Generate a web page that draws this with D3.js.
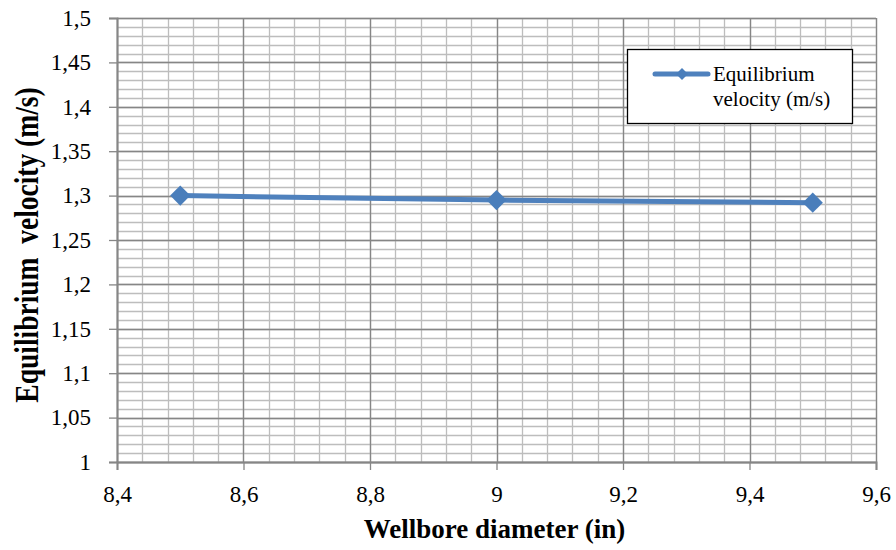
<!DOCTYPE html>
<html>
<head>
<meta charset="utf-8">
<script src="https://cdn.jsdelivr.net/npm/d3@7"></script>
<style>
body{margin:0;background:#fff;}
svg text{font-family:"Liberation Serif","Times New Roman",serif;fill:#000;}
</style>
</head>
<body>
<svg id="chart" width="896" height="550"></svg>
<script>
const diameters = [8.5, 9, 9.5];
const velocities = [1.300, 1.295, 1.292];
const seriesName = ["Equilibrium", "velocity (m/s)"];
const xTicks = [8.4, 8.6, 8.8, 9, 9.2, 9.4, 9.6];
const yTicks = [1, 1.05, 1.1, 1.15, 1.2, 1.25, 1.3, 1.35, 1.4, 1.45, 1.5];

const serif = "'Liberation Serif', 'Times New Roman', serif";

const svg = d3.select("#chart"),
margin = {top:18,right:20,bottom:88,left:117},
width = 876 - margin.left,
height = 462 - margin.top;

const g = svg.append("g")
.attr("transform",`translate(${margin.left},${margin.top})`);

const x = d3.scaleLinear().domain([8.4,9.6]).range([0,width]);
const y = d3.scaleLinear().domain([1,1.5]).range([height,0]);

const loc = d3.formatLocale({decimal:",",thousands:" ",grouping:[3],currency:["",""]});
const fmt = loc.format("~r");

// minor grid
const xMinor = d3.range(0,31).map(i=>8.4+i*0.04);
const yMinor = d3.range(0,51).map(i=>1+i*0.01);

g.append("g").selectAll("line").data(xMinor).join("line")
.attr("x1",d=>Math.round(x(d))+0.5).attr("x2",d=>Math.round(x(d))+0.5)
.attr("y1",0).attr("y2",height)
.attr("stroke","#bdbdbd").attr("stroke-width",1.3);

g.append("g").selectAll("line").data(yMinor).join("line")
.attr("y1",d=>Math.round(y(d))+0.5).attr("y2",d=>Math.round(y(d))+0.5)
.attr("x1",0).attr("x2",width)
.attr("stroke","#bdbdbd").attr("stroke-width",1.3);

// major grid
g.append("g").selectAll("line").data(xTicks).join("line")
.attr("x1",d=>Math.round(x(d))+0.5).attr("x2",d=>Math.round(x(d))+0.5)
.attr("y1",0).attr("y2",height)
.attr("stroke","#868686").attr("stroke-width",1.3);

g.append("g").selectAll("line").data(yTicks).join("line")
.attr("y1",d=>Math.round(y(d))+0.5).attr("y2",d=>Math.round(y(d))+0.5)
.attr("x1",0).attr("x2",width)
.attr("stroke","#868686").attr("stroke-width",1.3);

// axes
const xAxis = g.append("g")
.attr("transform",`translate(0,${height})`)
.call(d3.axisBottom(x).tickValues(xTicks).tickFormat(fmt).tickSize(8).tickPadding(16));

const yAxis = g.append("g")
.call(d3.axisLeft(y).tickValues(yTicks).tickFormat(fmt).tickSize(8).tickPadding(18));

[xAxis,yAxis].forEach(a=>{
    a.attr("font-family",null).attr("font-size",null);
    a.selectAll("path").attr("stroke","#868686").attr("stroke-width",2);
    a.selectAll("line").attr("stroke","#868686").attr("stroke-width",1.3);
    a.selectAll("text").style("font-family",serif).style("font-size","23px").attr("fill","#000");
});

// line
const line = d3.line()
.x((d,i)=>x(diameters[i]))
.y(d=>y(d));

g.append("path")
.datum(velocities)
.attr("d",line)
.attr("fill","none")
.attr("stroke","#4f81bd")
.attr("stroke-width",5)
.attr("stroke-linejoin","round");

const diamond = d3.symbol().type(d3.symbolDiamond2).size(260);
g.append("g").selectAll("path").data(velocities).join("path")
.attr("transform",(d,i)=>`translate(${x(diameters[i])},${y(d)})`)
.attr("d",diamond)
.attr("fill","#4a7ebb");

// legend
const legend = svg.append("g").attr("transform","translate(627,49)");
legend.append("rect")
.attr("x",0.5).attr("y",0.5)
.attr("width",225).attr("height",74)
.attr("fill","#fff").attr("stroke","#000").attr("stroke-width",1.3);
legend.append("line")
.attr("x1",28).attr("x2",81).attr("y1",25).attr("y2",25)
.attr("stroke","#4f81bd").attr("stroke-width",5).attr("stroke-linecap","round");
legend.append("path")
.attr("transform","translate(55,25)")
.attr("d",d3.symbol().type(d3.symbolDiamond2).size(90))
.attr("fill","#4a7ebb");
seriesName.forEach((t,i)=>{
    legend.append("text")
    .attr("x",86).attr("y",32+i*25)
    .style("font-family",serif).style("font-size","21px")
    .text(t);
});

// titles
svg.append("text")
.attr("x",margin.left+width/2 - 2).attr("y",538)
.attr("text-anchor","middle")
.style("font-family",serif).style("font-size","27px").style("font-weight","bold")
.text("Wellbore diameter (in)");

// y title is drawn wider than tall in the original, hence the scale
svg.append("text")
.attr("transform","translate(38,245) rotate(-90) scale(1,1.25)")
.attr("text-anchor","middle")
.style("font-family",serif).style("font-size","27.5px").style("font-weight","bold")
.style("white-space","pre")
.text("Equilibrium  velocity (m/s)");
</script>
</body>
</html>
